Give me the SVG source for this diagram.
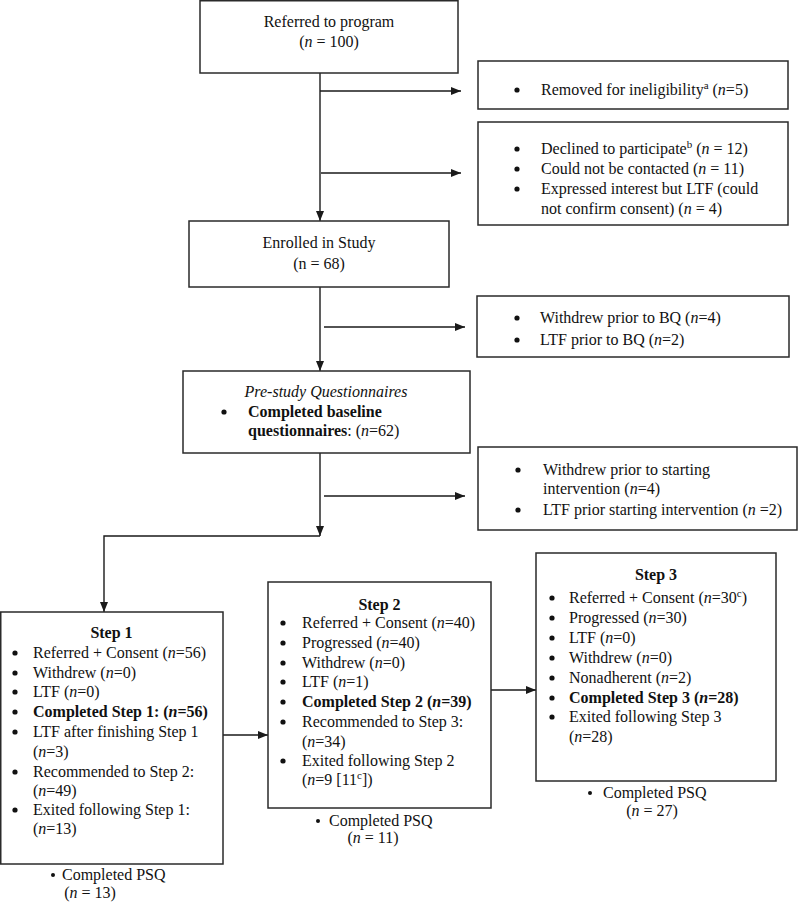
<svg xmlns="http://www.w3.org/2000/svg" width="800" height="902" viewBox="0 0 800 902">
<style>
.box{fill:#fff;stroke:#2a2a2a;stroke-width:1.5}
.t{font-family:"Liberation Serif","Times New Roman",serif;font-size:16px;fill:#111}
.dot{fill:#111}
.c{text-anchor:middle}
.b{font-weight:bold}
.i{font-style:italic}
.line{stroke:#1a1a1a;stroke-width:1.4;fill:none}
</style>
<defs>
<marker id="ah" markerWidth="10" markerHeight="8" refX="10" refY="4" orient="auto" markerUnits="userSpaceOnUse"><path d="M0,0 L10,4 L0,8 z" fill="#1a1a1a"/></marker>
</defs>
<rect width="800" height="902" fill="#fff"/>
<g id="connectors">
<path class="line" d="M320,73 V221" marker-end="url(#ah)"/>
<path class="line" d="M320,91 H461" marker-end="url(#ah)"/>
<path class="line" d="M321,173 H461" marker-end="url(#ah)"/>
<path class="line" d="M320,287 V371" marker-end="url(#ah)"/>
<path class="line" d="M324,327 H465" marker-end="url(#ah)"/>
<path class="line" d="M320,453 V536" marker-end="url(#ah)"/>
<path class="line" d="M324,496 H465" marker-end="url(#ah)"/>
<path class="line" d="M320,536 H104 V612" marker-end="url(#ah)"/>
<path class="line" d="M223,735 H268" marker-end="url(#ah)"/>
<path class="line" d="M491,690 H536" marker-end="url(#ah)"/>
</g>
<g id="referred">
<rect class="box" x="200" y="0.75" width="258" height="72.25"/>
<text class="t c" x="329" y="27">Referred to program</text>
<text class="t c" x="329" y="47">(<tspan class="i">n</tspan> = 100)</text>
</g>
<g id="removed">
<rect class="box" x="478" y="61" width="310" height="48"/>
<circle class="dot" cx="517" cy="90" r="2.6"/>
<text class="t" x="541" y="95">Removed for ineligibility<tspan dy="-6" font-size="11">a</tspan><tspan dy="6"> (</tspan><tspan class="i">n</tspan>=5)</text>
</g>
<g id="declined">
<rect class="box" x="478" y="122" width="310" height="103"/>
<circle class="dot" cx="517" cy="149" r="2.6"/>
<text class="t" x="541" y="154">Declined to participate<tspan dy="-6" font-size="11">b</tspan><tspan dy="6"> (</tspan><tspan class="i">n</tspan> = 12)</text>
<circle class="dot" cx="517" cy="169" r="2.6"/>
<text class="t" x="541" y="174">Could not be contacted (<tspan class="i">n</tspan> = 11)</text>
<circle class="dot" cx="517" cy="189" r="2.6"/>
<text class="t" x="541" y="194">Expressed interest but LTF (could</text>
<text class="t" x="541" y="214">not confirm consent) (<tspan class="i">n</tspan> = 4)</text>
</g>
<g id="enrolled">
<rect class="box" x="189" y="221" width="260" height="66"/>
<text class="t c" x="319" y="248">Enrolled in Study</text>
<text class="t c" x="319" y="269">(n = 68)</text>
</g>
<g id="withdrew-bq">
<rect class="box" x="477" y="296" width="312" height="61"/>
<circle class="dot" cx="517" cy="318" r="2.6"/>
<text class="t" x="540" y="323">Withdrew prior to BQ (<tspan class="i">n</tspan>=4)</text>
<circle class="dot" cx="517" cy="340" r="2.6"/>
<text class="t" x="540" y="345">LTF prior to BQ (<tspan class="i">n</tspan>=2)</text>
</g>
<g id="prestudy">
<rect class="box" x="183" y="371" width="287" height="82"/>
<text class="t c i" x="326" y="397">Pre-study Questionnaires</text>
<circle class="dot" cx="224" cy="412" r="2.6"/>
<text class="t b" x="248" y="417">Completed baseline</text>
<text class="t" x="248" y="436"><tspan class="b">questionnaires</tspan>: (<tspan class="i">n</tspan>=62)</text>
</g>
<g id="withdrew-int">
<rect class="box" x="478" y="447" width="319" height="83"/>
<circle class="dot" cx="518" cy="470" r="2.6"/>
<text class="t" x="543" y="475">Withdrew prior to starting</text>
<text class="t" x="543" y="494">intervention (<tspan class="i">n</tspan>=4)</text>
<circle class="dot" cx="518" cy="510" r="2.6"/>
<text class="t" x="543" y="515">LTF prior starting intervention (<tspan class="i">n</tspan> =2)</text>
</g>
<g id="step1">
<rect class="box" x="0.75" y="612" width="222.25" height="252"/>
<text class="t c b" x="111.5" y="638">Step 1</text>
<circle class="dot" cx="15" cy="653" r="2.6"/><text class="t" x="33" y="658">Referred + Consent (<tspan class="i">n</tspan>=56)</text>
<circle class="dot" cx="15" cy="673" r="2.6"/><text class="t" x="33" y="678">Withdrew (<tspan class="i">n</tspan>=0)</text>
<circle class="dot" cx="15" cy="692" r="2.6"/><text class="t" x="33" y="697">LTF (<tspan class="i">n</tspan>=0)</text>
<circle class="dot" cx="15" cy="712" r="2.6"/><text class="t b" x="33" y="717">Completed Step 1: (<tspan class="i">n</tspan>=56)</text>
<circle class="dot" cx="15" cy="732" r="2.6"/><text class="t" x="33" y="737">LTF after finishing Step 1</text>
<text class="t" x="33" y="757">(<tspan class="i">n</tspan>=3)</text>
<circle class="dot" cx="15" cy="772" r="2.6"/><text class="t" x="33" y="777">Recommended to Step 2:</text>
<text class="t" x="33" y="796">(<tspan class="i">n</tspan>=49)</text>
<circle class="dot" cx="15" cy="810" r="2.6"/><text class="t" x="33" y="815">Exited following Step 1:</text>
<text class="t" x="33" y="834">(<tspan class="i">n</tspan>=13)</text>
<circle class="dot" cx="53" cy="875" r="2"/><text class="t" x="62" y="880">Completed PSQ</text>
<text class="t c" x="90" y="898">(<tspan class="i">n</tspan> = 13)</text>
</g>
<g id="step2">
<rect class="box" x="268" y="582" width="223" height="226"/>
<text class="t c b" x="379.5" y="610">Step 2</text>
<circle class="dot" cx="283" cy="623" r="2.6"/><text class="t" x="302" y="628">Referred + Consent (<tspan class="i">n</tspan>=40)</text>
<circle class="dot" cx="283" cy="643" r="2.6"/><text class="t" x="302" y="648">Progressed (<tspan class="i">n</tspan>=40)</text>
<circle class="dot" cx="283" cy="663" r="2.6"/><text class="t" x="302" y="668">Withdrew (<tspan class="i">n</tspan>=0)</text>
<circle class="dot" cx="283" cy="682" r="2.6"/><text class="t" x="302" y="687">LTF (<tspan class="i">n</tspan>=1)</text>
<circle class="dot" cx="283" cy="702" r="2.6"/><text class="t b" x="302" y="707">Completed Step 2 (<tspan class="i">n</tspan>=39)</text>
<circle class="dot" cx="283" cy="722" r="2.6"/><text class="t" x="302" y="727">Recommended to Step 3:</text>
<text class="t" x="302" y="747">(<tspan class="i">n</tspan>=34)</text>
<circle class="dot" cx="283" cy="761" r="2.6"/><text class="t" x="302" y="766">Exited following Step 2</text>
<text class="t" x="302" y="785">(<tspan class="i">n</tspan>=9 [11<tspan dy="-6" font-size="11">c</tspan><tspan dy="6">])</tspan></text>
<circle class="dot" cx="318" cy="821" r="2"/><text class="t" x="329" y="826">Completed PSQ</text>
<text class="t c" x="373" y="843">(<tspan class="i">n</tspan> = 11)</text>
</g>
<g id="step3">
<rect class="box" x="536" y="553" width="240" height="228"/>
<text class="t c b" x="656" y="580">Step 3</text>
<circle class="dot" cx="552" cy="598" r="2.6"/><text class="t" x="569" y="603">Referred + Consent (<tspan class="i">n</tspan>=30<tspan dy="-6" font-size="11">c</tspan><tspan dy="6">)</tspan></text>
<circle class="dot" cx="552" cy="618" r="2.6"/><text class="t" x="569" y="623">Progressed (<tspan class="i">n</tspan>=30)</text>
<circle class="dot" cx="552" cy="638" r="2.6"/><text class="t" x="569" y="643">LTF (<tspan class="i">n</tspan>=0)</text>
<circle class="dot" cx="552" cy="658" r="2.6"/><text class="t" x="569" y="663">Withdrew (<tspan class="i">n</tspan>=0)</text>
<circle class="dot" cx="552" cy="678" r="2.6"/><text class="t" x="569" y="683">Nonadherent (<tspan class="i">n</tspan>=2)</text>
<circle class="dot" cx="552" cy="698" r="2.6"/><text class="t b" x="569" y="703">Completed Step 3 (<tspan class="i">n</tspan>=28)</text>
<circle class="dot" cx="552" cy="717" r="2.6"/><text class="t" x="569" y="722">Exited following Step 3</text>
<text class="t" x="569" y="742">(<tspan class="i">n</tspan>=28)</text>
<circle class="dot" cx="590" cy="793" r="2"/><text class="t" x="603" y="798">Completed PSQ</text>
<text class="t c" x="652" y="816">(<tspan class="i">n</tspan> = 27)</text>
</g>
</svg>
